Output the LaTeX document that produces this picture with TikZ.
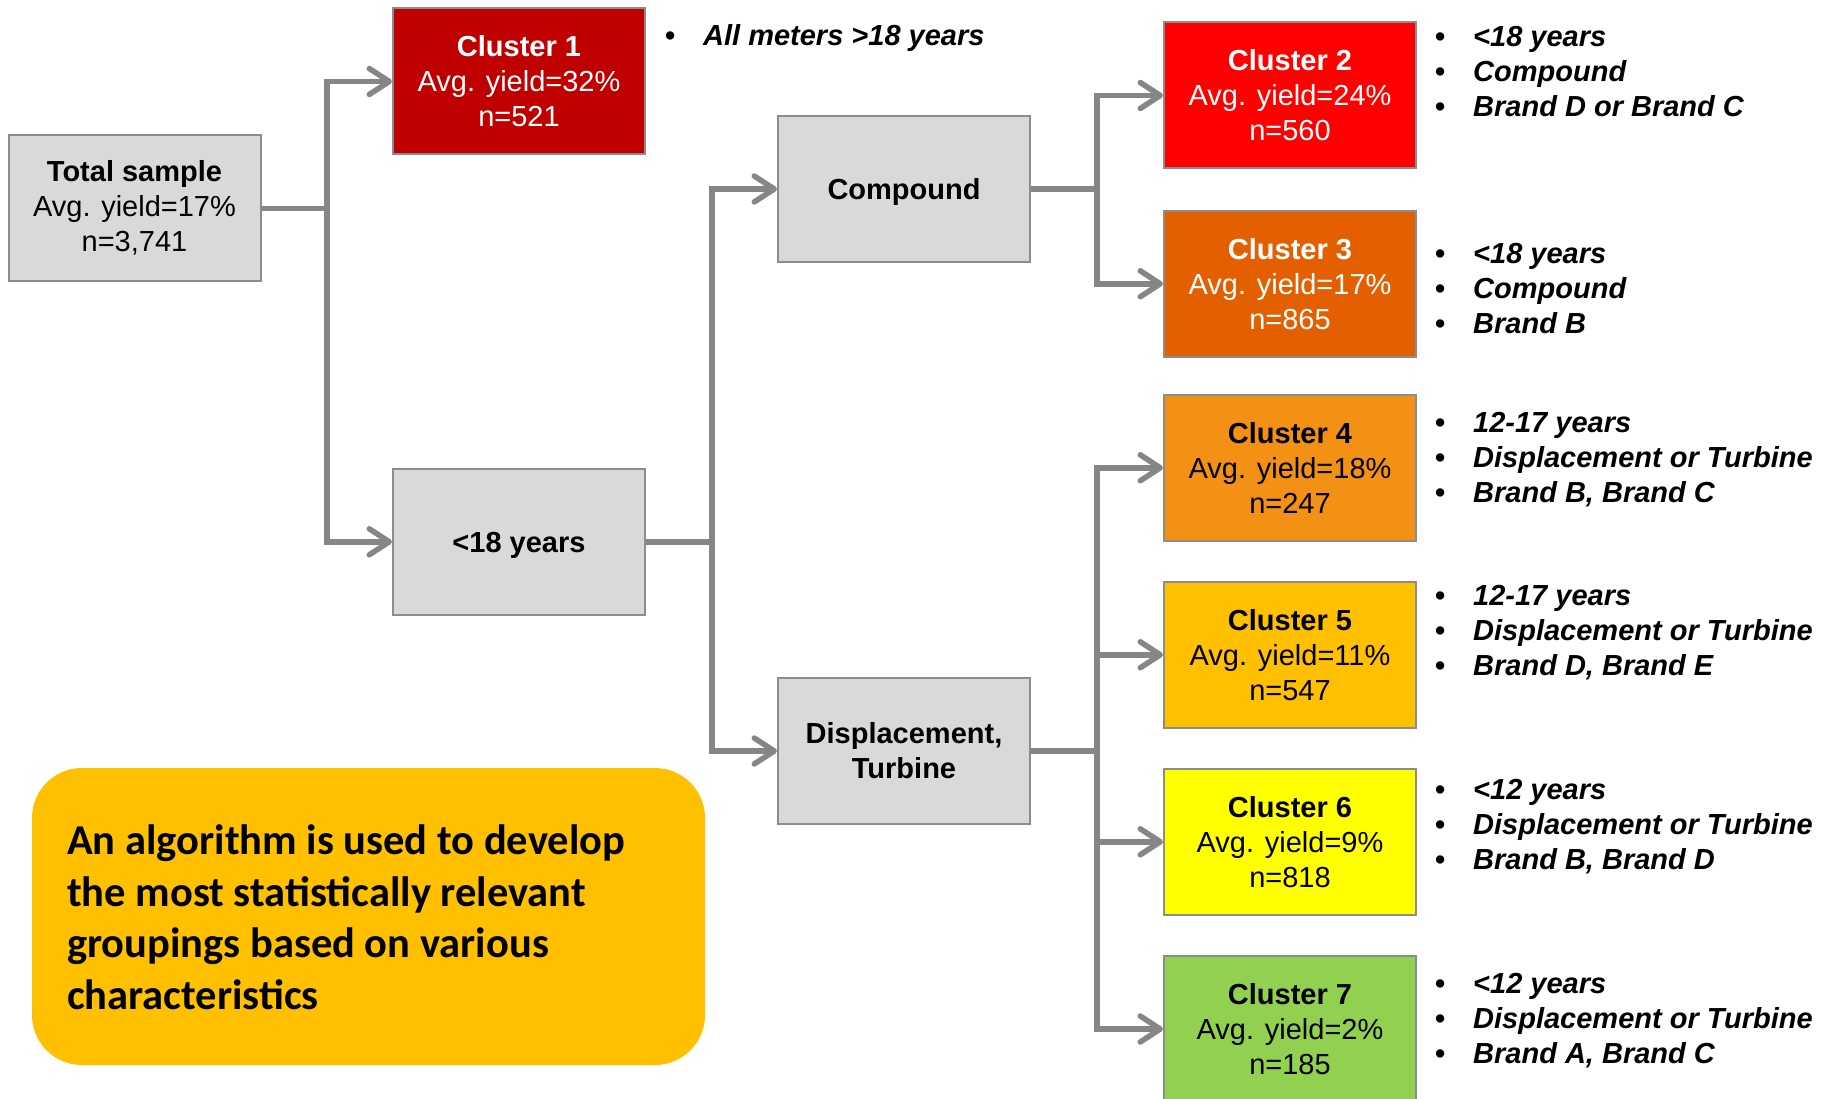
\documentclass[tikz,border=0pt]{standalone}
\usepackage{fontspec}
\setmainfont{Liberation Sans}
\newfontfamily\calib{Carlito}
\usetikzlibrary{arrows.meta}
\definecolor{boxgray}{HTML}{D9D9D9}
\definecolor{bordergray}{HTML}{8C8C8C}
\definecolor{conngray}{HTML}{868686}
\definecolor{cone}{HTML}{C00000}
\definecolor{ctwo}{HTML}{FF0000}
\definecolor{cthree}{HTML}{E45F00}
\definecolor{cfour}{HTML}{F29113}
\definecolor{cfive}{HTML}{FFC000}
\definecolor{csix}{HTML}{FFFF00}
\definecolor{cseven}{HTML}{92D050}
\definecolor{noteyellow}{HTML}{FFC000}
\newcommand\bl[1]{\makebox[38pt][l]{\textbf{\textbullet}}\textbf{\textit{#1}}}
\begin{document}
\begin{tikzpicture}[x=1pt,y=-1pt,
  box/.style={draw=bordergray, line width=2pt, minimum width=252pt, minimum height=146pt,
    inner sep=0pt, align=center, font=\fontsize{29}{35}\selectfont},
  graybox/.style={box, fill=boxgray},
  oneline/.style={text height=20.8pt, text depth=0pt},
  list/.style={anchor=base west, inner sep=0pt, font=\fontsize{29}{35}\selectfont},
  conn/.style={draw=conngray, line width=5.5pt},
  arr/.style={conn, -{Straight Barb[length=20pt,width=26pt,round]}}]
\useasboundingbox (0,0) rectangle (1839,1099);
\fill[white] (0,0) rectangle (1839,1099);

% boxes
\node[graybox] (total) at (134.5,208.3) {\textbf{Total sample}\\Avg. yield=17\%\\n=3,741};
\node[box, fill=cone, text=white] (c1) at (519,81.5) {\textbf{Cluster 1}\\Avg. yield=32\%\\n=521};
\node[graybox, oneline] (young) at (519,541.8) {\textbf{<18 years}};
\node[graybox, oneline] (comp) at (904,189) {\textbf{Compound}};
\node[graybox] (disp) at (904,751) {\textbf{Displacement,}\\\textbf{Turbine}};
\node[box, fill=ctwo, text=white] (c2) at (1290,95.5) {\textbf{Cluster 2}\\Avg. yield=24\%\\n=560};
\node[box, fill=cthree, text=white] (c3) at (1290,283.8) {\textbf{Cluster 3}\\Avg. yield=17\%\\n=865};
\node[box, fill=cfour] (c4) at (1290,467.8) {\textbf{Cluster 4}\\Avg. yield=18\%\\n=247};
\node[box, fill=cfive] (c5) at (1290,654.8) {\textbf{Cluster 5}\\Avg. yield=11\%\\n=547};
\node[box, fill=csix] (c6) at (1290,841.8) {\textbf{Cluster 6}\\Avg. yield=9\%\\n=818};
\node[box, fill=cseven] (c7) at (1290,1029) {\textbf{Cluster 7}\\Avg. yield=2\%\\n=185};

% connectors
\coordinate (b1) at (327,208.3);
\coordinate (b2) at (712,541.8);
\coordinate (b3) at (1097,189);
\coordinate (b4) at (1097,751);
\draw[conn] (total) -- (b1);
\draw[arr] (b1) |- (c1);
\draw[arr] (b1) |- (young);
\draw[conn] (young) -- (b2);
\draw[arr] (b2) |- (comp);
\draw[arr] (b2) |- (disp);
\draw[conn] (comp) -- (b3);
\draw[arr] (b3) |- (c2);
\draw[arr] (b3) |- (c3);
\draw[conn] (disp) -- (b4);
\draw[arr] (b4) |- (c4);
\draw[arr] (b4) |- (c5);
\draw[arr] (b4) |- (c6);
\draw[arr] (b4) |- (c7);

% bullet lists
\node[list] (l1) at (665,45.5) {\begin{tabular}[t]{@{}l@{}}\bl{All meters >18 years}\end{tabular}};
\node[list] (l2) at (1435,47) {\begin{tabular}[t]{@{}l@{}}\bl{<18 years}\\\bl{Compound}\\\bl{Brand D or Brand C}\end{tabular}};
\node[list] (l3) at (1435,264) {\begin{tabular}[t]{@{}l@{}}\bl{<18 years}\\\bl{Compound}\\\bl{Brand B}\end{tabular}};
\node[list] (l4) at (1435,432.5) {\begin{tabular}[t]{@{}l@{}}\bl{12-17 years}\\\bl{Displacement or Turbine}\\\bl{Brand B, Brand C}\end{tabular}};
\node[list] (l5) at (1435,605.5) {\begin{tabular}[t]{@{}l@{}}\bl{12-17 years}\\\bl{Displacement or Turbine}\\\bl{Brand D, Brand E}\end{tabular}};
\node[list] (l6) at (1435,799) {\begin{tabular}[t]{@{}l@{}}\bl{<12 years}\\\bl{Displacement or Turbine}\\\bl{Brand B, Brand D}\end{tabular}};
\node[list] (l7) at (1435,993) {\begin{tabular}[t]{@{}l@{}}\bl{<12 years}\\\bl{Displacement or Turbine}\\\bl{Brand A, Brand C}\end{tabular}};

% note
\node[fill=noteyellow, rounded corners=50pt, minimum width=673pt, minimum height=297pt, inner sep=0pt] (note) at (368.5,916.5) {};
\node[anchor=base west, inner sep=0pt, font=\calib\bfseries\fontsize{42.5}{51.5}\selectfont] (notetext) at (67,854.5)
  {\begin{tabular}[t]{@{}l@{}}An algorithm is used to develop\\the most statistically relevant\\groupings based on various\\characteristics\end{tabular}};
\end{tikzpicture}
\end{document}
